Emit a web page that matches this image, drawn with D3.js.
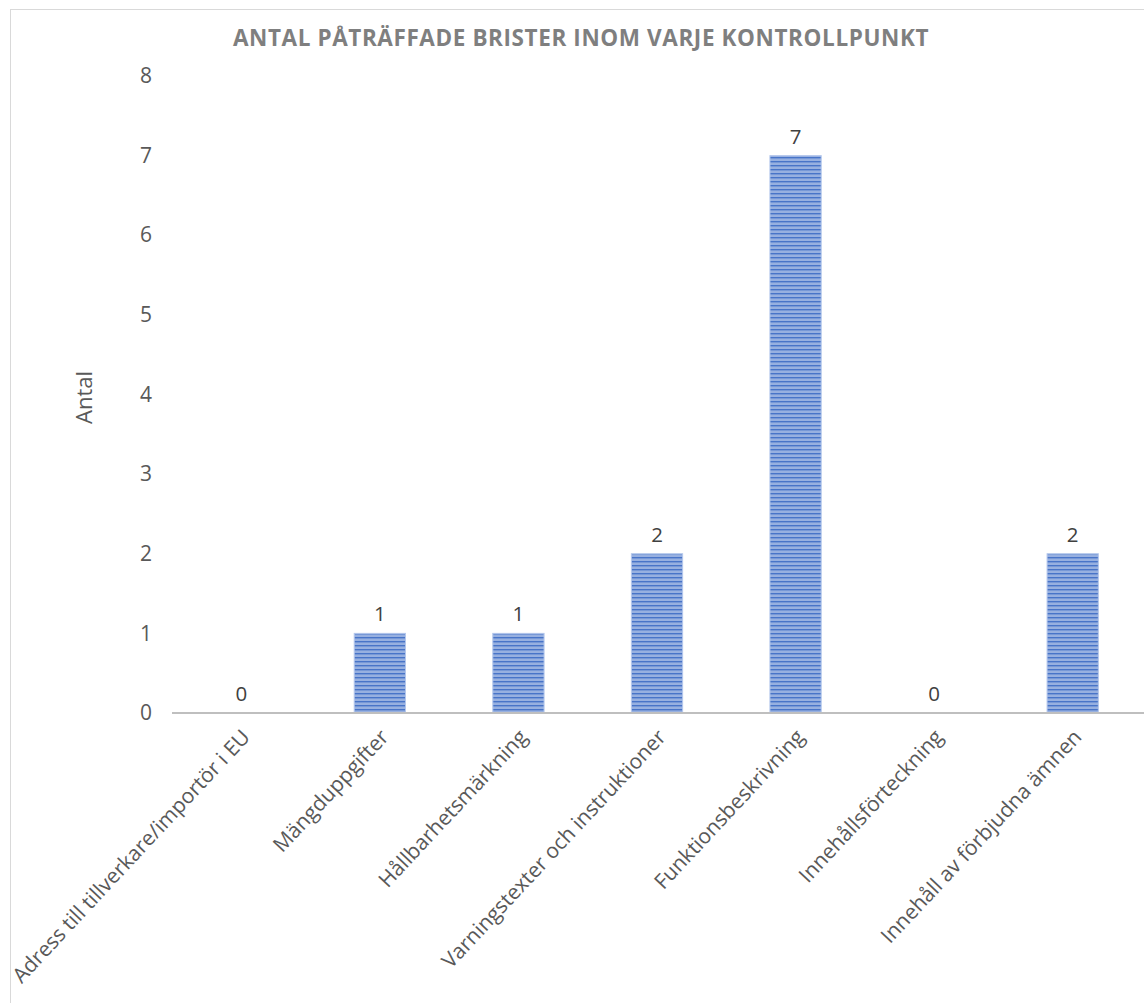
<!DOCTYPE html>
<html>
<head>
<meta charset="utf-8">
<script src="https://cdn.jsdelivr.net/npm/d3@7"></script>
<style>
  body { margin: 0; background: #fff; }
  text { font-family: "Open Sans", sans-serif; }
</style>
</head>
<body>
<div id="chart"></div>
<script>
const categories = [
    "Adress till tillverkare/importör i EU",
    "Mängduppgifter",
    "Hållbarhetsmärkning",
    "Varningstexter och instruktioner",
    "Funktionsbeskrivning",
    "Innehållsförteckning",
    "Innehåll av förbjudna ämnen"
];
const values = [0, 1, 1, 2, 7, 0, 2];
const yTicks = [0, 1, 2, 3, 4, 5, 6, 7, 8];

const W = 1144, H = 1003;
const margin = { top: 76, right: 2, bottom: 290, left: 172 },
    width = W - margin.left - margin.right,
    height = H - margin.top - margin.bottom;

const root = d3.select("#chart")
    .append("svg")
    .attr("width", W)
    .attr("height", H);

// stripe pattern for the bars
const pat = root.append("defs")
    .append("pattern")
    .attr("id", "stripes")
    .attr("patternUnits", "userSpaceOnUse")
    .attr("width", 8)
    .attr("height", 4);
pat.append("rect").attr("width", 8).attr("height", 4).attr("fill", "#97b0e0");
pat.append("rect").attr("y", 1).attr("width", 8).attr("height", 1.4).attr("fill", "#4874c8");

// chart frame
root.append("rect")
    .attr("x", 10.5).attr("y", 9.5)
    .attr("width", W + 20).attr("height", H + 20)
    .attr("fill", "none")
    .attr("stroke", "#d9d9d9");

root.append("text")
    .attr("x", 581)
    .attr("y", 46)
    .attr("text-anchor", "middle")
    .attr("fill", "#7f7f7f")
    .style("font-size", "22.5px")
    .style("font-weight", "bold")
    .style("letter-spacing", "0.6px")
    .text("ANTAL PÅTRÄFFADE BRISTER INOM VARJE KONTROLLPUNKT");

const svg = root.append("g")
    .attr("transform", "translate(" + margin.left + "," + margin.top + ")");

const x = d3.scaleBand()
    .domain(categories)
    .range([0, width])
    .paddingInner(0.63)
    .paddingOuter(0.315);

const y = d3.scaleLinear()
    .domain([0, 8])
    .range([height, 0]);

// y axis labels
svg.append("g")
    .attr("class", "axis")
    .call(d3.axisLeft(y).tickValues(yTicks).tickSize(0).tickPadding(20).tickFormat(d3.format("d")))
    .call(g => g.select(".domain").remove())
    .selectAll("text")
    .attr("fill", "#595959")
    .style("font-size", "21px")
    .style("font-family", "'Open Sans', sans-serif");

svg.append("text")
    .attr("transform", "translate(" + (-80) + "," + (height / 2 + 3) + ") rotate(-90)")
    .attr("text-anchor", "middle")
    .attr("fill", "#595959")
    .style("font-size", "22px")
    .text("Antal");

// bars
svg.append("g")
    .selectAll("rect")
    .data(values)
    .enter()
    .append("rect")
    .attr("x", (d, i) => x(categories[i]))
    .attr("y", d => y(d))
    .attr("width", x.bandwidth())
    .attr("height", d => height - y(d))
    .attr("fill", "url(#stripes)")
    .attr("stroke", "#b4c7ec")
    .attr("stroke-width", 1);

// data labels
svg.append("g")
    .selectAll("text")
    .data(values)
    .enter()
    .append("text")
    .attr("x", (d, i) => x(categories[i]) + x.bandwidth() / 2)
    .attr("y", d => y(d) - 12)
    .attr("text-anchor", "middle")
    .attr("fill", "#404040")
    .style("font-size", "20.5px")
    .text(d => d);

// x axis
svg.append("line")
    .attr("x1", 0).attr("x2", width + margin.right)
    .attr("y1", height).attr("y2", height)
    .attr("stroke", "#bfbfbf")
    .attr("stroke-width", 2);

svg.append("g")
    .selectAll("text")
    .data(categories)
    .enter()
    .append("text")
    .attr("transform", d => "translate(" + (x(d) + x.bandwidth() / 2 + 10) + "," + (height + 25) + ") rotate(-47)")
    .attr("text-anchor", "end")
    .attr("fill", "#595959")
    .style("font-size", "21px")
    .text(d => d);
</script>
</body>
</html>
